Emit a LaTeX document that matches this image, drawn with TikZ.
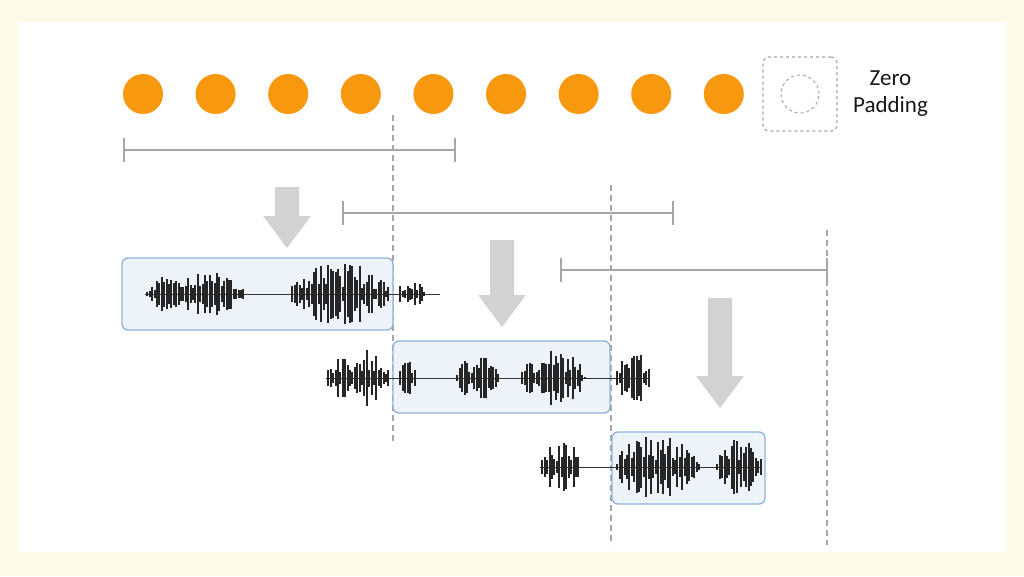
\documentclass[tikz,border=0pt]{standalone}
\usepackage{fontspec}
\setmainfont{Carlito}
\usetikzlibrary{positioning}
\definecolor{dotorange}{HTML}{F7980F}
\definecolor{boxblue}{HTML}{8FB3DA}
\definecolor{boxfill}{HTML}{EEF3FA}
\definecolor{cream}{HTML}{FCFAE8}
\tikzset{
  dot/.style={circle,fill=dotorange,minimum size=40pt,inner sep=0pt},
  guide/.style={dash pattern=on 6pt off 4pt,gray!70,line width=1.4pt},
  span/.style={gray!70,line width=1.2pt},
  win/.style={draw=boxblue,fill=boxfill,rounded corners=6pt,line width=1.3pt}
}
% block arrow pointing down: x, top, bottom
\newcommand*{\blockdown}[3]{%
  \fill[gray!35] (#1-12,#2) -- (#1+12,#2) -- (#1+12,#3-32) -- (#1+24,#3-32)
    -- (#1,#3) -- (#1-24,#3-32) -- (#1-12,#3-32) -- cycle;}
% one burst of the waveform
\newcommand*{\burst}[4]{%
  \pgfmathsetmacro{\nxt}{#1+2.4}%
  \pgfmathsetmacro{\fac}{180/(#2-#1+0.1)}%
  \foreach \i in {#1,\nxt,...,#2}{
    \pgfmathsetmacro{\h}{#4*(0.2+0.8*rnd)*sqrt(abs(sin(\fac*(\i-#1))))}
    \draw[gray!30!black,line width=1.9pt] (\i,#3-\h) -- (\i,#3+\h);
  }}
\begin{document}
\begin{tikzpicture}[x=1pt,y=-1pt]
\pgfmathsetseed{7}
\fill[cream] (0,0) rectangle (1024,576);
\fill[white] (18,22) rectangle (1006,552);
\useasboundingbox (0,0) rectangle (1024,576);
% Input frames
\foreach \k in {0,...,8}
  \node[dot] (f\k) at (143+72.6*\k,94) {};
\node[draw,dashed,gray!70,line width=1.2pt,rounded corners=6pt,
      minimum size=74pt] (pad) at (800,94) {};
\node[circle,draw,dashed,gray!70,line width=1pt,minimum size=38pt] at (pad) {};
\node[align=center,font=\fontsize{23}{27}\selectfont,text=gray!20!black,
      right=12pt of pad] (padtxt) {Zero\\Padding};
% Window boundaries
\draw[guide] (393,115) -- (393,445);
\draw[guide] (611,185) -- (611,545);
\draw[guide] (827,230) -- (827,545);
% Window spans
\foreach \a/\b/\y in {124/455/150,343/673/213,561/827/270}{
  \draw[span] (\a,\y) -- (\b,\y);
  \draw[span] (\a,\y-12) -- (\a,\y+12);
  \draw[span] (\b,\y-12) -- (\b,\y+12);
}
% Arrows
\blockdown{287}{187}{248}
\blockdown{502}{240}{327}
\blockdown{720}{298}{408}
% Windows
\draw[win] (122,258) rectangle (393,330);
\draw[win] (393,341) rectangle (610,413);
\draw[win] (612,432) rectangle (765,504);
% Waveforms
\draw[gray!40!black,line width=0.8pt] (145,294) -- (440,294);
\burst{145}{245}{294}{24}\burst{290}{390}{294}{32}\burst{398}{425}{294}{16}
\draw[gray!40!black,line width=0.8pt] (326,378) -- (650,378);
\burst{326}{390}{378}{30}\burst{398}{416}{378}{26}\burst{455}{500}{378}{24}
\burst{520}{585}{378}{30}\burst{615}{650}{378}{28}
\draw[gray!40!black,line width=0.8pt] (540,467) -- (762,467);
\burst{540}{580}{467}{28}\burst{615}{700}{467}{32}\burst{715}{762}{467}{28}
\end{tikzpicture}
\end{document}
